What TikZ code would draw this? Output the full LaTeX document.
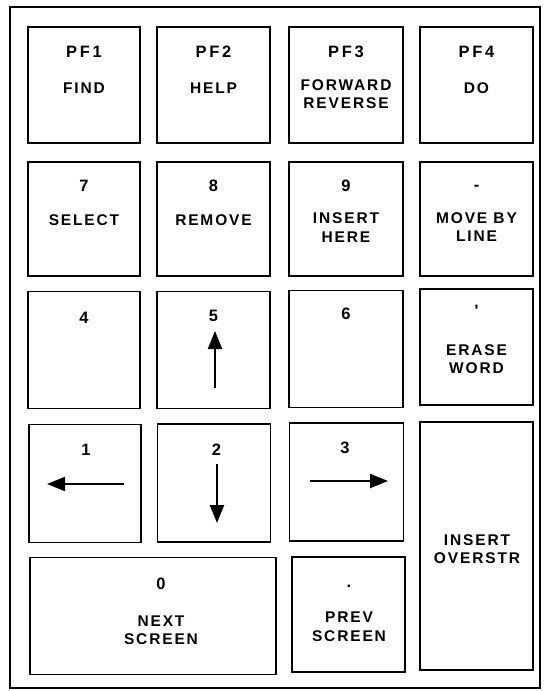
\documentclass[tikz,border=0pt]{standalone}
\usepackage{fontspec}
\newfontfamily\keyfont[LetterSpace=12]{Liberation Sans}
\newfontfamily\numfont[LetterSpace=16]{Liberation Sans}
\usetikzlibrary{arrows.meta}
\tikzset{
  keybox/.style={draw, line width=1.8pt, inner sep=0pt},
  lbl/.style={anchor=base, inner sep=0pt, font=\keyfont\bfseries\fontsize{15.5}{18}\selectfont},
  num/.style={anchor=base, inner sep=0pt, font=\numfont\bfseries\fontsize{16.5}{18}\selectfont},
  dir/.style={line width=2.2pt, -{Triangle[length=18pt,width=14pt]}},
  frame/.style={draw, line width=1.3pt}
}
\begin{document}
\begin{tikzpicture}[x=1pt,y=-1pt]
\useasboundingbox (0,0) rectangle (545,691);
\node[frame, minimum width=530pt, minimum height=681pt, inner sep=0pt] (outer) at (275,347.5) {};
% row 1
\node[keybox, minimum width=112pt, minimum height=116pt] (pf1) at (84,85) {};
\node[keybox, minimum width=113pt, minimum height=116pt] (pf2) at (213.5,85) {};
\node[keybox, minimum width=114pt, minimum height=116pt] (pf3) at (346,85) {};
\node[keybox, minimum width=113pt, minimum height=116pt] (pf4) at (476.5,85) {};
% row 2
\node[keybox, minimum width=112pt, minimum height=114pt] (k7) at (84,219) {};
\node[keybox, minimum width=113pt, minimum height=114pt] (k8) at (213.5,219) {};
\node[keybox, minimum width=114pt, minimum height=114pt] (k9) at (346,219) {};
\node[keybox, minimum width=113pt, minimum height=114pt] (kminus) at (476.5,219) {};
% row 3
\node[keybox, minimum width=112pt, minimum height=117pt] (k4) at (84,350) {};
\node[keybox, minimum width=113pt, minimum height=117pt] (k5) at (213.5,350) {};
\node[keybox, minimum width=114pt, minimum height=117pt] (k6) at (346,349) {};
\node[keybox, minimum width=113pt, minimum height=116pt] (kcomma) at (476.5,347) {};
% row 4
\node[keybox, minimum width=112pt, minimum height=118pt] (k1) at (85,483.5) {};
\node[keybox, minimum width=113pt, minimum height=118pt] (k2) at (214,483) {};
\node[keybox, minimum width=114pt, minimum height=118pt] (k3) at (346.5,482) {};
\node[keybox, minimum width=113pt, minimum height=248pt] (kenter) at (476.5,546) {};
% row 5
\node[keybox, minimum width=246pt, minimum height=117pt] (k0) at (153,616) {};
\node[keybox, minimum width=113pt, minimum height=115pt] (kdot) at (348.5,614.5) {};
% texts
\node[num] (t-pf1) at (84,57.5) {PF1};
\node[lbl] (t-find) at (84,93.5) {FIND};
\node[num] (t-pf2) at (213.5,57.5) {PF2};
\node[lbl] (t-help) at (213.5,93.5) {HELP};
\node[num] (t-pf3) at (346,57.5) {PF3};
\node[lbl] (t-fwd) at (346,90.5) {FORWARD};
\node[lbl] (t-rev) at (346,108.5) {REVERSE};
\node[num] (t-pf4) at (476.5,57.5) {PF4};
\node[lbl] (t-do) at (476.5,93.5) {DO};
\node[num] (t-7) at (84,191) {7};
\node[lbl] (t-select) at (84,225.5) {SELECT};
\node[num] (t-8) at (213.5,191) {8};
\node[lbl] (t-remove) at (213.5,225.5) {REMOVE};
\node[num] (t-9) at (346,191) {9};
\node[lbl] (t-insert) at (346,223.5) {INSERT};
\node[lbl] (t-here) at (346,242.5) {HERE};
\node[num] (t-minus) at (476.5,190.5) {-};
\node[lbl] (t-moveby) at (476.5,223.5) {MOVE BY};
\node[lbl] (t-line) at (476.5,241.5) {LINE};
\node[num] (t-4) at (84,323) {4};
\node[num] (t-5) at (213.5,321) {5};
\node[num] (t-6) at (346,319) {6};
\node[num] (t-comma) at (476.5,316) {'};
\node[lbl] (t-erase) at (476.5,355.5) {ERASE};
\node[lbl] (t-word) at (476.5,373.5) {WORD};
\node[num] (t-1) at (86,455.5) {1};
\node[num] (t-2) at (216.5,455) {2};
\node[num] (t-3) at (345,453) {3};
\node[lbl] (t-ins2) at (477,545.5) {INSERT};
\node[lbl] (t-overstr) at (477,563.5) {OVERSTR};
\node[num] (t-0) at (161,589) {0};
\node[lbl] (t-next) at (161,626.5) {NEXT};
\node[lbl] (t-screen1) at (161,644.5) {SCREEN};
\node[num] (t-dot) at (349,587) {.};
\node[lbl] (t-prev) at (349,622.5) {PREV};
\node[lbl] (t-screen2) at (349,641.5) {SCREEN};
% arrows
\coordinate (u0) at (215,388); \coordinate (u1) at (215,331);
\coordinate (l0) at (124,484); \coordinate (l1) at (47,484);
\coordinate (d0) at (217,464); \coordinate (d1) at (217,523);
\coordinate (r0) at (310,481); \coordinate (r1) at (388,481);
\draw[dir] (u0) -- (u1);
\draw[dir] (l0) -- (l1);
\draw[dir] (d0) -- (d1);
\draw[dir] (r0) -- (r1);
\end{tikzpicture}
\end{document}
